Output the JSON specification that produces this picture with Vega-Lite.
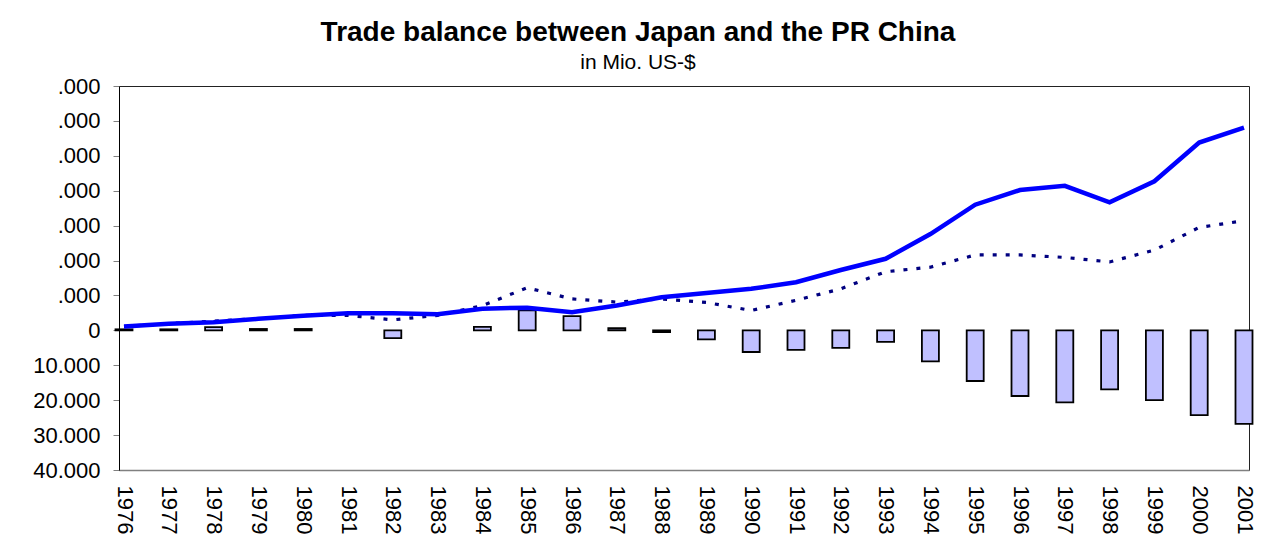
{
  "$schema": "https://vega.github.io/schema/vega-lite/v6.json",
  "autosize": {"type": "none"},
  "width": 1130,
  "height": 384,
  "padding": {"left": 119, "top": 86, "right": 19, "bottom": 73},
  "background": "white",
  "title": {
    "text": "Trade balance between Japan and the PR China",
    "subtitle": "in Mio. US-$",
    "anchor": "middle",
    "dx": -46,
    "offset": 2,
    "font": "Liberation Sans",
    "fontSize": 28,
    "fontWeight": "bold",
    "color": "black",
    "subtitleFont": "Liberation Sans",
    "subtitleFontSize": 21,
    "subtitleColor": "black",
    "subtitlePadding": 5
  },
  "config": {
    "view": {"stroke": "#222222", "strokeWidth": 1},
    "font": "Liberation Sans",
    "axisY": {
      "title": null,
      "values": [-40000,-30000,-20000,-10000,0,10000,20000,30000,40000,50000,60000,70000],
      "labelExpr": "datum.value > 0 ? '.000' : (datum.value == 0 ? '0' : format(-datum.value/1000, 'd') + '.000')",
      "labelFontSize": 22,
      "labelColor": "black",
      "labelPadding": 13,
      "labelOverlap": false,
      "labelFlush": false,
      "tickSize": 6,
      "tickColor": "#808080",
      "domainColor": "black",
      "grid": false
    }
  },
  "data": {
    "values": [
      {"year": 1976, "imports": 1100, "exports": 1100, "balance": 300},
      {"year": 1977, "imports": 1900, "exports": 1950, "balance": 300},
      {"year": 1978, "imports": 2300, "exports": 2600, "balance": 950},
      {"year": 1979, "imports": 3300, "exports": 3400, "balance": 400},
      {"year": 1980, "imports": 4200, "exports": 4300, "balance": 400},
      {"year": 1981, "imports": 4900, "exports": 4300, "balance": null},
      {"year": 1982, "imports": 4900, "exports": 3000, "balance": -2200},
      {"year": 1983, "imports": 4600, "exports": 4300, "balance": null},
      {"year": 1984, "imports": 6200, "exports": 7100, "balance": 1000},
      {"year": 1985, "imports": 6500, "exports": 12200, "balance": 5700},
      {"year": 1986, "imports": 5200, "exports": 9000, "balance": 4100},
      {"year": 1987, "imports": 7100, "exports": 8100, "balance": 600},
      {"year": 1988, "imports": 9500, "exports": 9000, "balance": -500},
      {"year": 1989, "imports": 10700, "exports": 8000, "balance": -2600},
      {"year": 1990, "imports": 11900, "exports": 5700, "balance": -6200},
      {"year": 1991, "imports": 13800, "exports": 8600, "balance": -5600},
      {"year": 1992, "imports": 17300, "exports": 11900, "balance": -5000},
      {"year": 1993, "imports": 20500, "exports": 16800, "balance": -3300},
      {"year": 1994, "imports": 27600, "exports": 18100, "balance": -8900},
      {"year": 1995, "imports": 36000, "exports": 21600, "balance": -14500},
      {"year": 1996, "imports": 40200, "exports": 21600, "balance": -18800},
      {"year": 1997, "imports": 41400, "exports": 20900, "balance": -20600},
      {"year": 1998, "imports": 36700, "exports": 19600, "balance": -16900},
      {"year": 1999, "imports": 42700, "exports": 23000, "balance": -20000},
      {"year": 2000, "imports": 53800, "exports": 29500, "balance": -24300},
      {"year": 2001, "imports": 58100, "exports": 31400, "balance": -26800}
    ]
  },
  "encoding": {
    "x": {
      "field": "year",
      "type": "quantitative",
      "scale": {"domain": [1976, 2001], "nice": false, "zero": false},
      "axis": {
        "title": null,
        "values": [1976,1977,1978,1979,1980,1981,1982,1983,1984,1985,1986,1987,1988,1989,1990,1991,1992,1993,1994,1995,1996,1997,1998,1999,2000,2001],
        "format": "d",
        "labelAngle": 90,
        "labelAlign": "left",
        "labelBaseline": "middle",
        "labelFontSize": 22,
        "labelColor": "black",
        "labelPadding": 15,
        "ticks": false,
        "grid": false,
        "domainColor": "#808080",
        "domainWidth": 1.5,
        "labelOverlap": false,
        "labelFlush": false
      }
    }
  },
  "layer": [
    {
      "mark": {"type": "bar", "width": 17, "fill": "#C0C0FF", "stroke": "black", "strokeWidth": 1.8},
      "encoding": {
        "y": {
          "field": "balance",
          "type": "quantitative",
          "scale": {"domain": [-40000, 70000], "nice": false}
        }
      }
    },
    {
      "mark": {"type": "rule", "color": "#808080", "strokeWidth": 1.5},
      "encoding": {"y": {"datum": 0}}
    },
    {
      "mark": {"type": "line", "color": "#000080", "strokeWidth": 3.2, "strokeDash": [4, 9]},
      "encoding": {"y": {"field": "exports", "type": "quantitative"}}
    },
    {
      "mark": {"type": "line", "color": "#0000FF", "strokeWidth": 4.5},
      "encoding": {"y": {"field": "imports", "type": "quantitative"}}
    }
  ]
}
